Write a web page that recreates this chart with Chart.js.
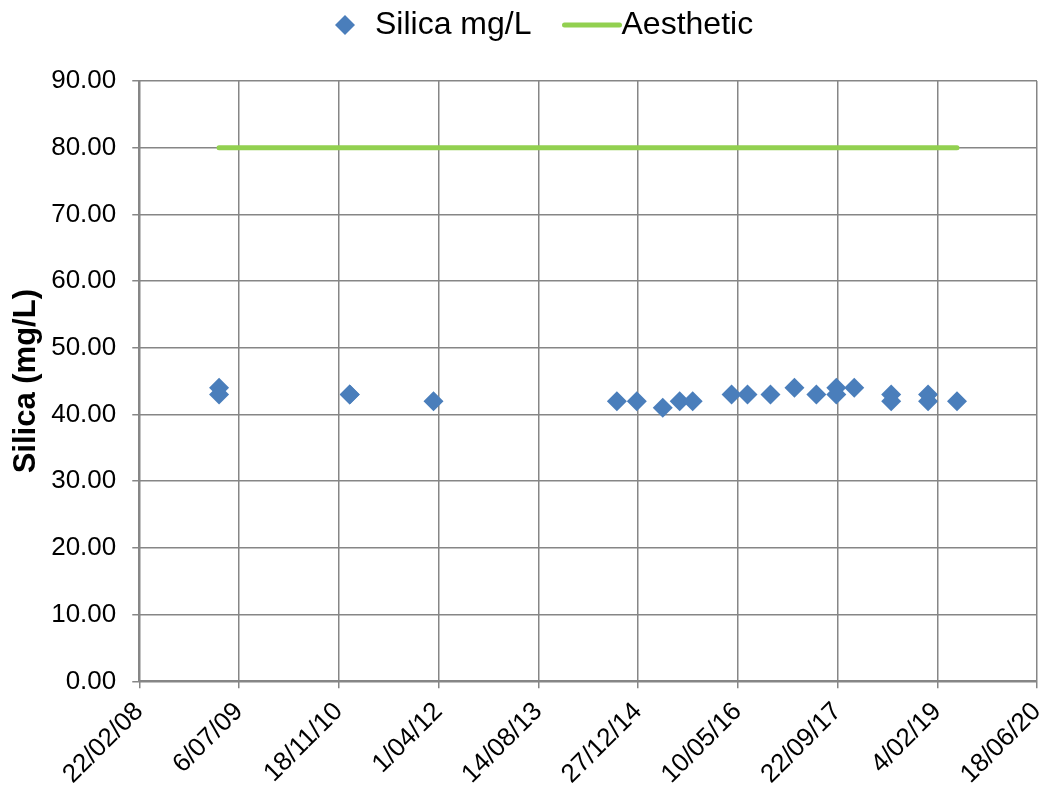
<!DOCTYPE html>
<html>
<head>
<meta charset="utf-8">
<script src="https://cdn.jsdelivr.net/npm/chart.js@4"></script>
<style>
  body { margin: 0; background: #fff; }
  #wrap { width: 1047px; height: 790px; }
</style>
</head>
<body>
<div id="wrap"><canvas id="myChart" width="1047" height="790"></canvas></div>
<script>
// sample dates and silica readings (mg/L)
var sampleDates = ['2009-03-28', '2009-03-28', '2011-01-12', '2011-01-12', '2012-03-07',
    '2014-09-12', '2014-12-21', '2015-04-30', '2015-07-24', '2015-09-27',
    '2016-04-09', '2016-06-28', '2016-10-21', '2017-02-18', '2017-06-08',
    '2017-09-16', '2017-09-16', '2017-12-15', '2018-06-18', '2018-06-18',
    '2018-12-20', '2018-12-20', '2019-05-14'];
var silica = [44, 43, 43, 43, 42,
    42, 42, 41, 42, 42,
    43, 43, 43, 44, 43,
    44, 43, 44, 43, 42,
    43, 42, 42];

var aestheticDates = ['2009-03-28', '2019-05-14'];
var aesthetic = [80, 80];

var xTickLabels = ['22/02/08', '6/07/09', '18/11/10', '1/04/12', '14/08/13',
    '27/12/14', '10/05/16', '22/09/17', '4/02/19', '18/06/20'];
var xStart = '2008-02-22';
var xStepDays = 500;

function toDay(s) {
    var p = s.split('-');
    return Date.UTC(+p[0], +p[1] - 1, +p[2]) / 86400000;
}

var startDay = toDay(xStart);
var silicaPts = sampleDates.map(function(d, i) { return { x: toDay(d), y: silica[i] }; });
var aesPts = aestheticDates.map(function(d, i) { return { x: toDay(d), y: aesthetic[i] }; });

var gridCol = '#868686';
var blue = '#4A7EBB';
var green = '#92D050';
var fontFam = '"Liberation Sans", Arial, sans-serif';

// legend drawn by hand so the diamond and the line get their own sizes
var topLegend = {
    id: 'topLegend',
    afterDraw: function(chart) {
        var c = chart.ctx;
        var ds = chart.data.datasets;
        var y = 25;
        var x = 335;
        c.save();
        c.font = '32px ' + fontFam;
        c.textBaseline = 'middle';
        c.fillStyle = blue;
        c.beginPath();
        c.moveTo(x, y); c.lineTo(x + 10, y - 10); c.lineTo(x + 20, y); c.lineTo(x + 10, y + 10);
        c.closePath();
        c.fill();
        x += 40;
        c.fillStyle = '#000';
        c.fillText(ds[0].label, x, y);
        x += c.measureText(ds[0].label).width + 33;
        c.strokeStyle = green;
        c.lineWidth = 5;
        c.lineCap = 'round';
        c.beginPath();
        c.moveTo(x, y); c.lineTo(x + 55, y);
        c.stroke();
        x += 57;
        c.fillText(ds[1].label, x, y);
        c.restore();
    }
};

var ctx = document.getElementById('myChart').getContext('2d');
var myChart = new Chart(ctx, {
    type: 'scatter',
    data: {
        datasets: [{
            label: 'Silica mg/L',
            data: silicaPts,
            pointStyle: 'rectRot',
            pointRadius: 10,
            pointHoverRadius: 10,
            backgroundColor: blue,
            borderColor: blue,
            borderWidth: 0
        }, {
            label: 'Aesthetic',
            data: aesPts,
            showLine: true,
            pointRadius: 0,
            borderColor: green,
            backgroundColor: green,
            borderWidth: 5,
            borderCapStyle: 'round'
        }]
    },
    plugins: [topLegend],
    options: {
        responsive: false,
        animation: false,
        layout: { padding: { left: 0, right: 5, top: 81, bottom: -8 } },
        plugins: {
            tooltip: { enabled: false },
            legend: { display: false }
        },
        scales: {
            x: {
                type: 'linear',
                min: startDay,
                max: startDay + xStepDays * (xTickLabels.length - 1),
                afterBuildTicks: function(axis) {
                    axis.ticks = xTickLabels.map(function(l, i) {
                        return { value: startDay + i * xStepDays };
                    });
                },
                afterFit: function(axis) {
                    axis.paddingRight = 0;
                    axis.paddingLeft = 0;
                },
                ticks: {
                    color: '#000',
                    font: { family: fontFam, size: 26 },
                    maxRotation: 45,
                    minRotation: 45,
                    autoSkip: false,
                    padding: 8,
                    callback: function(v, i) { return xTickLabels[i]; }
                },
                grid: { color: gridCol, lineWidth: 1.5, tickLength: 7 },
                border: { color: gridCol, width: 2 }
            },
            y: {
                min: 0,
                max: 90,
                ticks: {
                    stepSize: 10,
                    color: '#000',
                    font: { family: fontFam, size: 26 },
                    padding: 16,
                    callback: function(v) { return v.toFixed(2); }
                },
                grid: { color: gridCol, lineWidth: 1.5, tickLength: 7 },
                border: { color: gridCol, width: 2 },
                title: {
                    display: true,
                    text: 'Silica (mg/L)',
                    color: '#000',
                    font: { family: fontFam, size: 31, weight: 'bold' },
                    padding: { top: 8, bottom: -10 }
                }
            }
        }
    }
});
</script>
</body>
</html>
